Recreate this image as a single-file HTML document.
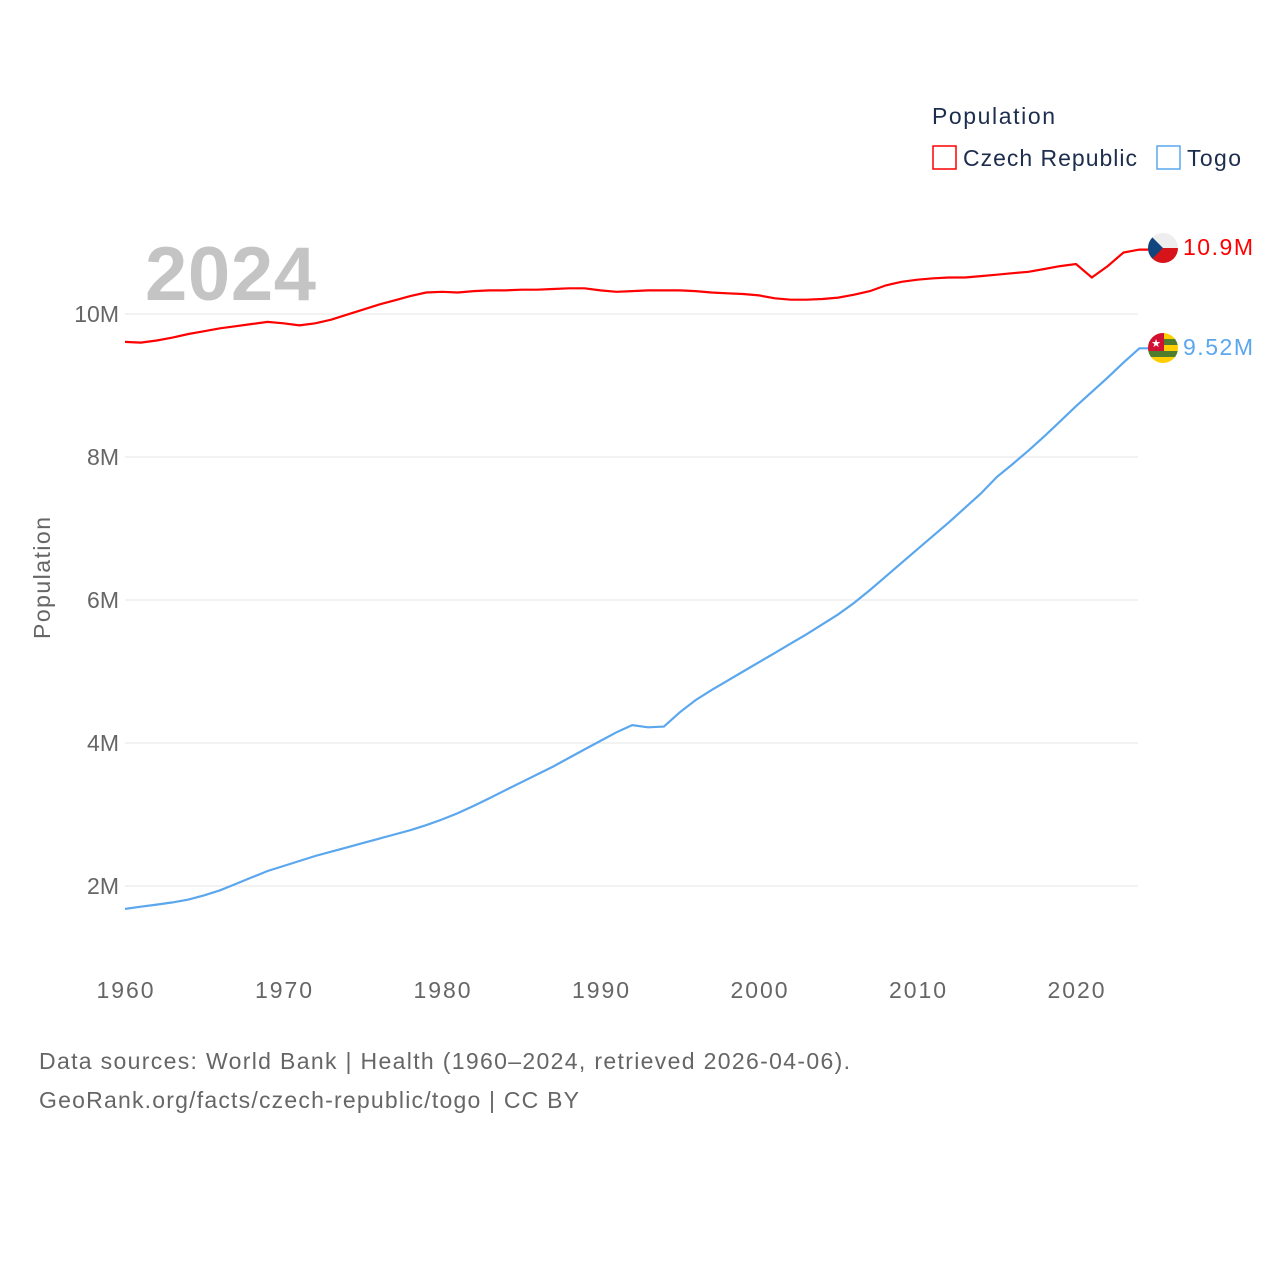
<!DOCTYPE html>
<html><head><meta charset="utf-8"><style>
body{margin:0;background:#fff;font-family:"Liberation Sans",sans-serif}
svg text{font-family:"Liberation Sans",sans-serif}
</style></head><body>
<svg id="chart" width="1280" height="1280" viewBox="0 0 1280 1280">
<defs>
<clipPath id="cz"><circle cx="1163" cy="248" r="15"/></clipPath>
<clipPath id="tg"><circle cx="1163" cy="348" r="15"/></clipPath>
</defs>
<g id="grid"></g>
<g id="yticks"></g>
<g id="xticks"></g>
<text x="145" y="300" font-size="76" font-weight="bold" fill="#c4c4c4" textLength="171">2024</text>
<text transform="translate(50,578) rotate(-90)" text-anchor="middle" font-size="23" fill="#666" textLength="122">Population</text>
<path id="czLine" fill="none" stroke="#ff0000" stroke-width="2.2"/>
<path id="tgLine" fill="none" stroke="#5aa7ee" stroke-width="2.2"/>
<g clip-path="url(#cz)">
<rect x="1148" y="233" width="30" height="15" fill="#eee"/><rect x="1148" y="248" width="30" height="15" fill="#d7141a"/>
<polygon points="1148,233 1163,248 1148,263" fill="#11457e"/></g>
<g clip-path="url(#tg)">
<rect x="1148" y="333" width="30" height="30" fill="#ffce00"/>
<rect x="1148" y="339" width="30" height="6" fill="#4e7d2e"/><rect x="1148" y="351" width="30" height="6" fill="#4e7d2e"/>
<rect x="1148" y="333" width="16" height="18" fill="#d21034"/>
<text x="1156" y="347" font-size="11" fill="#fff" text-anchor="middle">★</text></g>
<text x="1183" y="255" font-size="23" fill="#ff0000" textLength="70">10.9M</text>
<text x="1183" y="355" font-size="23" fill="#5aa7ee" textLength="70">9.52M</text>
<g>
<text x="932" y="124" font-size="23" fill="#1c2d4d" textLength="123">Population</text>
<g>
<rect x="933" y="146" width="23" height="23" fill="none" stroke="#ff0000" stroke-width="1.5"/>
<text x="963" y="166" font-size="23" fill="#1c2d4d" textLength="174">Czech Republic</text></g>
<g>
<rect x="1157" y="146" width="23" height="23" fill="none" stroke="#5aa7ee" stroke-width="1.5"/>
<text x="1187" y="166" font-size="23" fill="#1c2d4d" textLength="54">Togo</text></g>
</g>
<text x="39" y="1069" font-size="23" fill="#666" textLength="811">Data sources: World Bank | Health (1960–2024, retrieved 2026-04-06).</text>
<text x="39" y="1108" font-size="23" fill="#666" textLength="540">GeoRank.org/facts/czech-republic/togo | CC BY</text>
</svg>
<script>
const years=[];for(let y=1960;y<=2024;y++)years.push(y);
const czech=[9.61,9.60,9.63,9.67,9.72,9.76,9.80,9.83,9.86,9.89,9.87,9.84,9.87,9.92,9.99,10.06,10.13,10.19,10.25,10.30,10.31,10.30,10.32,10.33,10.33,10.34,10.34,10.35,10.36,10.36,10.33,10.31,10.32,10.33,10.33,10.33,10.32,10.30,10.29,10.28,10.26,10.22,10.20,10.20,10.21,10.23,10.27,10.32,10.40,10.45,10.48,10.50,10.51,10.51,10.53,10.55,10.57,10.59,10.63,10.67,10.70,10.51,10.67,10.86,10.90];
const togo=[1.68,1.71,1.74,1.77,1.81,1.87,1.94,2.03,2.12,2.21,2.28,2.35,2.42,2.48,2.54,2.60,2.66,2.72,2.78,2.85,2.93,3.02,3.12,3.23,3.34,3.45,3.56,3.67,3.79,3.91,4.03,4.15,4.25,4.22,4.23,4.43,4.60,4.74,4.87,5.00,5.13,5.26,5.39,5.52,5.66,5.80,5.96,6.14,6.33,6.52,6.71,6.90,7.09,7.29,7.49,7.72,7.90,8.09,8.29,8.50,8.71,8.91,9.11,9.32,9.52];
const yTicks=[2,4,6,8,10];
const xTicks=[1960,1970,1980,1990,2000,2010,2020];
const X=y=>125+(y-1960)*(1076-125)/60;
const Y=v=>314-(v-10)*71.5;
const NS="http://www.w3.org/2000/svg";
function mk(parent,tag,attrs,txt){const e=document.createElementNS(NS,tag);for(const k in attrs)e.setAttribute(k,attrs[k]);if(txt)e.textContent=txt;document.getElementById(parent).appendChild(e);return e;}
yTicks.forEach(t=>{
const g=mk('grid','line',{x1:125,x2:1138,y1:Y(t),y2:Y(t),stroke:'#e6e6e6','stroke-width':1});


const l=mk('yticks','text',{x:119,y:Y(t)+8,'text-anchor':'end','font-size':23,fill:'#666'},t+'M');


});
xTicks.forEach(t=>{
const l=mk('xticks','text',{x:X(t),y:998,'text-anchor':'middle','font-size':23,fill:'#666',textLength:57},String(t));


});
function path(vals){return vals.map((v,i)=>(i?'L':'M')+X(years[i]).toFixed(1)+','+Y(v).toFixed(1)).join('')+'L1148,'+Y(vals[vals.length-1]).toFixed(1);}
document.getElementById('czLine').setAttribute('d',path(czech));
document.getElementById('tgLine').setAttribute('d',path(togo));
</script>
</body></html>
